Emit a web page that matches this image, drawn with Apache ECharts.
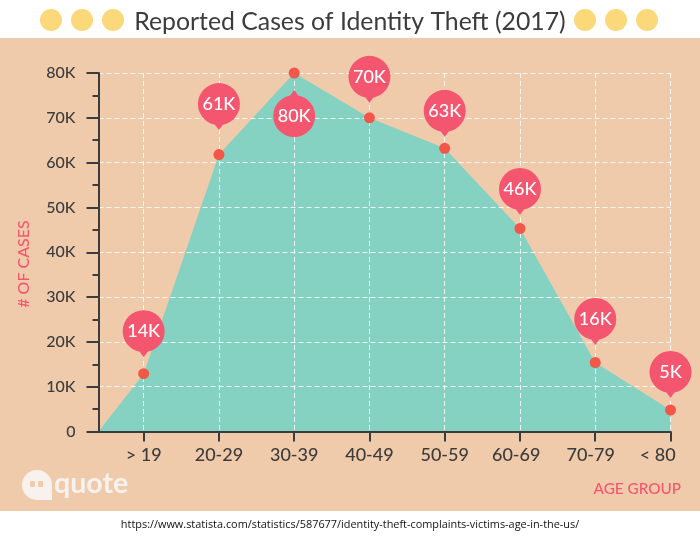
<!DOCTYPE html>
<html>
<head>
<meta charset="utf-8">
<title>Reported Cases of Identity Theft (2017)</title>
<script src="https://cdn.jsdelivr.net/npm/echarts@6/dist/echarts.min.js"></script>
<style>
html, body { margin: 0; padding: 0; background: #fff; }
#chart { width: 700px; height: 538px; }
</style>
</head>
<body>
<div id="chart"></div>
<script>
// values
var categories = ['> 19', '20-29', '30-39', '40-49', '50-59', '60-69', '70-79', '< 80'];
var caseValues = [12900, 61800, 80000, 70000, 63200, 45300, 15400, 4800];
var pinLabels = ['14K', '61K', '80K', '70K', '63K', '46K', '16K', '5K'];
var yTicks = [0, 10000, 20000, 30000, 40000, 50000, 60000, 70000, 80000];
var yTickLabels = ['0', '10K', '20K', '30K', '40K', '50K', '60K', '70K', '80K'];

// axis starts a little left of the first category, the area begins there at 0
var xStart = -0.6;
var xSlots = categories.map(function (c, i) { return i; });
// the printed labels drift a bit left of their ticks towards the right
var labelSlots = [0, 1, 2, 3, 4, 4.95, 5.94, 6.83];
// distance in px from dot to the middle of its pin, negative = above
var pinOffsets = [-40, -48, 40.5, -38.5, -35, -37, -41, -35.5];

var INK = '#3c3c3c', PINK = '#f5566f', DOT = '#f25749', TEAL = '#85d1c2', PEACH = '#efcbab', SUN = '#fbd87a';
var FONT = 'Lato, "Noto Sans", sans-serif';

var PIN_DOWN = 'path://M21 0A21 21 0 0 1 42 21A21 21 0 0 1 25 41.6L21 47L17 41.6A21 21 0 0 1 0 21A21 21 0 0 1 21 0Z';
var PIN_UP = 'path://M21 47A21 21 0 0 1 0 26A21 21 0 0 1 17 5.4L21 0L25 5.4A21 21 0 0 1 42 26A21 21 0 0 1 21 47Z';

function sun(x) {
    return { type: 'circle', z: 1, shape: { cx: x, cy: 20, r: 11 }, style: { fill: SUN } };
}

var chart = echarts.init(document.getElementById('chart'), null, { renderer: 'canvas' });

chart.setOption({
    animation: false,
    backgroundColor: '#fff',
    title: {
        text: 'Reported Cases of Identity Theft (2017)',
        left: 'center',
        top: 5,
        textStyle: { color: INK, fontFamily: FONT, fontWeight: 400, fontSize: 24.8 }
    },
    grid: { left: 98.5, right: 29.5, top: 73, bottom: 106.5 },
    graphic: [
        { type: 'rect', z: -10, shape: { x: 0, y: 38, width: 700, height: 473 }, style: { fill: PEACH } },
        sun(51), sun(82), sun(113), sun(585), sun(616), sun(647),
        {
            type: 'text', z: 1, rotation: Math.PI / 2, x: 24, y: 264,
            style: { text: '# OF CASES', fill: PINK, font: '500 16px ' + FONT, align: 'center', verticalAlign: 'middle' }
        },
        {
            type: 'text', z: 1, x: 681, y: 489,
            style: { text: 'AGE GROUP', fill: PINK, font: '500 15.3px ' + FONT, align: 'right', verticalAlign: 'middle' }
        },
        {
            type: 'text', z: 1, x: 350, y: 525,
            style: { text: 'https://www.statista.com/statistics/587677/identity-theft-complaints-victims-age-in-the-us/', fill: '#111', font: '10.9px "Open Sans", sans-serif', align: 'center', verticalAlign: 'middle' }
        },
        // quote logo
        { type: 'circle', z: 1, shape: { cx: 37, cy: 485, r: 15 }, style: { fill: '#f8f2ee' } },
        { type: 'polygon', z: 1, shape: { points: [[37, 500], [52, 500], [52, 486]] }, style: { fill: '#f8f2ee' } },
        { type: 'rect', z: 2, shape: { x: 30, y: 481, width: 5, height: 6, r: 1 }, style: { fill: PEACH } },
        { type: 'rect', z: 2, shape: { x: 38, y: 481, width: 5, height: 6, r: 1 }, style: { fill: PEACH } },
        {
            type: 'text', z: 1, x: 54, y: 484,
            style: { text: 'quote', fill: '#f8f2ee', font: '700 28.6px ' + FONT, align: 'left', verticalAlign: 'middle' }
        }
    ],
    xAxis: {
        type: 'value',
        min: xStart,
        max: categories.length - 1,
        z: 3,
        axisLine: { show: true, onZero: false, lineStyle: { color: INK, width: 2 } },
        axisTick: { show: true, customValues: xSlots, length: 10, lineStyle: { color: INK, width: 2 } },
        axisLabel: {
            customValues: labelSlots,
            margin: 15,
            color: INK,
            fontFamily: FONT,
            fontWeight: 500,
            fontSize: 18,
            formatter: function (v) { return categories[Math.round(v)]; }
        },
        splitLine: { show: true, lineStyle: { color: 'rgba(255,255,255,0.85)', width: 1, type: [5, 3] } }
    },
    yAxis: {
        type: 'value',
        min: 0,
        max: 80000,
        interval: 10000,
        z: 3,
        axisLine: { show: true, onZero: false, lineStyle: { color: INK, width: 2 } },
        axisTick: { show: true, length: 12, lineStyle: { color: INK, width: 2 } },
        minorTick: { show: true, splitNumber: 2, length: 6, lineStyle: { color: INK, width: 2 } },
        axisLabel: {
            margin: 23,
            color: INK,
            fontFamily: FONT,
            fontWeight: 500,
            fontSize: 16,
            formatter: function (v) { return yTickLabels[yTicks.indexOf(v)]; }
        },
        splitLine: { show: true, lineStyle: { color: 'rgba(255,255,255,0.85)', width: 1, type: [5, 3] } }
    },
    series: [{
        type: 'line',
        z: 1,
        silent: true,
        symbol: 'none',
        lineStyle: { width: 0 },
        areaStyle: { color: TEAL, opacity: 1 },
        data: [[xStart, 0]].concat(caseValues.map(function (v, i) { return [i, v]; }))
    }, {
        type: 'scatter',
        z: 5,
        symbolSize: 11,
        itemStyle: { color: DOT, opacity: 1 },
        data: caseValues.map(function (v, i) { return [i, v]; })
    }, {
        type: 'scatter',
        z: 6,
        symbolSize: [42, 47],
        itemStyle: { color: PINK, opacity: 1 },
        label: {
            show: true,
            position: 'inside',
            color: '#fff',
            fontFamily: FONT,
            fontWeight: 500,
            fontSize: 18
        },
        data: caseValues.map(function (v, i) {
            var up = pinOffsets[i] > 0;
            return {
                value: [i, v],
                symbol: up ? PIN_UP : PIN_DOWN,
                symbolOffset: [0, pinOffsets[i]],
                label: { formatter: pinLabels[i], offset: [0, up ? 2.5 : -2.5] }
            };
        })
    }]
});
</script>
</body>
</html>
